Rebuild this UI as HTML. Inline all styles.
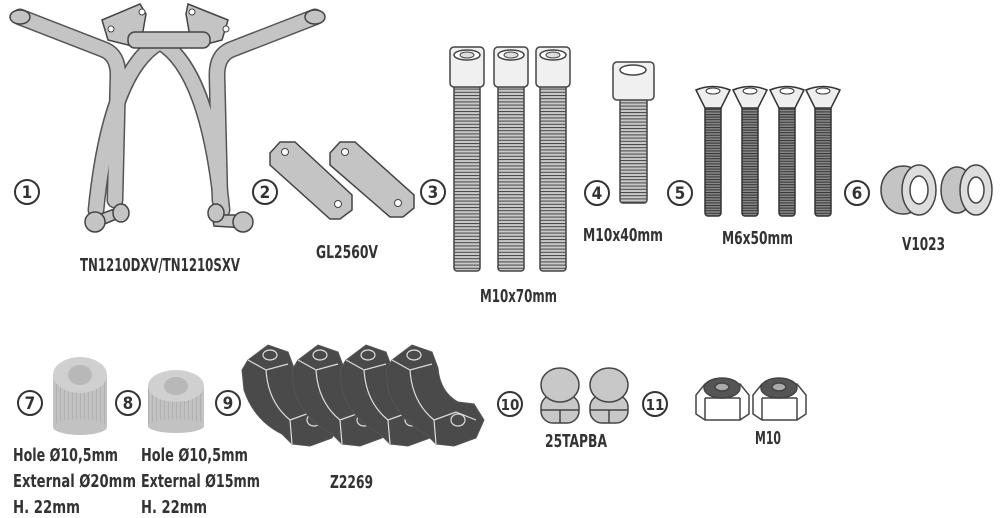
<!DOCTYPE html>
<html><head><meta charset="utf-8"><style>
html,body{margin:0;padding:0;background:#fff;}
svg{display:block;}
text{font-family:"Liberation Sans Narrow","DejaVu Sans Condensed","Liberation Sans",sans-serif;font-weight:bold;fill:#333;}
.n{font-size:17px;text-anchor:middle;}
.l{font-size:18px;}
</style></head><body>
<svg width="1000" height="518" viewBox="0 0 1000 518" xmlns="http://www.w3.org/2000/svg">
<defs>
<pattern id="thr" width="6" height="3.2" patternUnits="userSpaceOnUse">
<rect width="6" height="3.2" fill="#c8c8c8"/><line x1="0" y1="0.5" x2="6" y2="0.5" stroke="#444" stroke-width="1"/>
</pattern>
<pattern id="thr2" width="6" height="2.6" patternUnits="userSpaceOnUse">
<rect width="6" height="2.6" fill="#888"/><line x1="0" y1="0.5" x2="6" y2="0.5" stroke="#333" stroke-width="1"/>
</pattern>
<pattern id="rib" width="4" height="6" patternUnits="userSpaceOnUse">
<rect width="4" height="6" fill="#c2c2c2"/><line x1="0.5" y1="0" x2="0.5" y2="6" stroke="#b0b0b0" stroke-width="1"/>
</pattern>
<g id="bolt70">
<rect x="-13" y="38" width="26" height="186" rx="3" fill="url(#thr)" stroke="#444" stroke-width="1.5"/>
<rect x="-17" y="0" width="34" height="40" rx="4" fill="#f0f0f0" stroke="#444" stroke-width="1.5"/>
<ellipse cx="0" cy="8" rx="13" ry="5" fill="#fff" stroke="#444" stroke-width="1.5"/>
<ellipse cx="0" cy="8" rx="7" ry="3" fill="#ddd" stroke="#444"/>
</g>
<g id="bolt6">
<rect x="-8" y="14" width="16" height="114" rx="3" fill="url(#thr2)" stroke="#333" stroke-width="1.5"/>
<path d="M-17,2 Q0,-5 17,2 L8,20 L-8,20 Z" fill="#eee" stroke="#333" stroke-width="1.5"/>
<ellipse cx="0" cy="3" rx="7" ry="3" fill="#fff" stroke="#333"/>
</g>
<g id="clamp">
<path d="M8,18 L28,3 L48,10 L54,26 Q56,50 74,60 L90,62 L100,78 L92,96 L70,104 L52,102 L42,92 Q14,78 4,48 L2,28 Z" fill="#4a4a4a" stroke="#555" stroke-width="1"/>
<path d="M8,18 L26,28 L48,22 M26,28 Q28,60 50,78 M50,78 L72,70 L92,78 M50,78 L52,102" fill="none" stroke="#ddd" stroke-width="1.2"/>
<ellipse cx="30" cy="13" rx="7" ry="5" fill="none" stroke="#ddd" stroke-width="1.2"/>
<ellipse cx="74" cy="78" rx="7" ry="6" fill="none" stroke="#ddd" stroke-width="1.2"/>
</g>
<g id="circ"><circle r="12" fill="#fff" stroke="#333" stroke-width="2"/></g>
</defs>

<!-- Bracket 1 -->
<g fill="none" stroke-linecap="round" stroke-linejoin="round">
<g stroke="#555" stroke-width="17">
<path d="M20,17 L105,50 Q118,56 118,75 L115,200"/>
<path d="M315,17 L230,50 Q217,56 217,75 L220,200"/>
<path d="M96,210 Q110,70 160,42"/>
<path d="M222,210 Q208,70 160,42"/>
<path d="M135,40 L190,40"/>
</g>
<g stroke="#c4c4c4" stroke-width="14">
<path d="M20,17 L105,50 Q118,56 118,75 L115,200"/>
<path d="M315,17 L230,50 Q217,56 217,75 L220,200"/>
<path d="M96,210 Q110,70 160,42"/>
<path d="M222,210 Q208,70 160,42"/>
<path d="M135,40 L190,40"/>
</g>
</g>
<path d="M102,20 L140,4 L146,14 L140,48 L108,40 Z" fill="#c4c4c4" stroke="#444" stroke-width="1.5"/>
<path d="M188,4 L228,20 L222,40 L192,48 L186,14 Z" fill="#c4c4c4" stroke="#444" stroke-width="1.5"/>
<rect x="128" y="32" width="82" height="16" rx="7" fill="#c4c4c4" stroke="#444" stroke-width="1.5"/>
<circle cx="111" cy="29" r="3" fill="#fff" stroke="#444"/><circle cx="142" cy="12" r="3" fill="#fff" stroke="#444"/>
<circle cx="192" cy="12" r="3" fill="#fff" stroke="#444"/><circle cx="226" cy="29" r="3" fill="#fff" stroke="#444"/>
<ellipse cx="20" cy="17" rx="10" ry="7" fill="#c4c4c4" stroke="#444" stroke-width="1.5"/>
<ellipse cx="315" cy="17" rx="10" ry="7" fill="#c4c4c4" stroke="#444" stroke-width="1.5"/>
<path d="M90,218 L125,205 L126,215 L95,228 Z" fill="#c4c4c4" stroke="#444" stroke-width="1.5"/>
<path d="M212,215 L245,215 L244,228 L214,226 Z" fill="#c4c4c4" stroke="#444" stroke-width="1.5"/>
<ellipse cx="95" cy="222" rx="10" ry="10" fill="#c4c4c4" stroke="#444" stroke-width="1.5"/>
<ellipse cx="121" cy="213" rx="8" ry="9" fill="#c4c4c4" stroke="#444" stroke-width="1.5"/>
<ellipse cx="216" cy="213" rx="8" ry="9" fill="#c4c4c4" stroke="#444" stroke-width="1.5"/>
<ellipse cx="243" cy="222" rx="10" ry="10" fill="#c4c4c4" stroke="#444" stroke-width="1.5"/>

<!-- Plates 2 -->
<g fill="#c4c4c4" stroke="#444" stroke-width="1.5">
<path d="M270,153 L280,142 L295,142 L352,195 L352,210 L340,219 L330,219 L270,165 Z"/>
<path d="M330,153 L340,142 L355,142 L414,195 L414,208 L403,217 L390,217 L330,165 Z"/>
</g>
<g fill="#fff" stroke="#444"><circle cx="285" cy="152" r="3.5"/><circle cx="338" cy="204" r="3.5"/><circle cx="345" cy="152" r="3.5"/><circle cx="398" cy="203" r="3.5"/></g>

<use href="#bolt70" x="467" y="47"/>
<use href="#bolt70" x="511" y="47"/>
<use href="#bolt70" x="553" y="47"/>
<!-- M10x40 -->
<rect x="620" y="98" width="27" height="105" rx="3" fill="url(#thr)" stroke="#444" stroke-width="1.5"/>
<rect x="613" y="62" width="41" height="38" rx="4" fill="#f0f0f0" stroke="#444" stroke-width="1.5"/>
<ellipse cx="633" cy="70" rx="13" ry="5" fill="#fff" stroke="#444" stroke-width="1.5"/>
<use href="#bolt6" x="713" y="88"/><use href="#bolt6" x="750" y="88"/><use href="#bolt6" x="787" y="88"/><use href="#bolt6" x="823" y="88"/>

<!-- V1023 -->
<g stroke="#444" stroke-width="1.5">
<ellipse cx="903" cy="190" rx="22" ry="24" fill="#c4c4c4"/><ellipse cx="919" cy="190" rx="17" ry="25" fill="#ddd"/><ellipse cx="919" cy="190" rx="9" ry="14" fill="#fff"/>
<ellipse cx="957" cy="190" rx="16" ry="23" fill="#c4c4c4"/><ellipse cx="976" cy="190" rx="16" ry="25" fill="#ddd"/><ellipse cx="976" cy="190" rx="8" ry="13" fill="#fff"/>
</g>

<!-- Spacers -->
<rect x="53" y="375" width="54" height="52" fill="url(#rib)"/>
<ellipse cx="80" cy="427" rx="27" ry="8" fill="#c2c2c2"/>
<ellipse cx="80" cy="375" rx="27" ry="18" fill="#d0d0d0"/>
<ellipse cx="80" cy="375" rx="12" ry="10" fill="#b8b8b8"/>
<rect x="148" y="386" width="56" height="40" fill="url(#rib)"/>
<ellipse cx="176" cy="426" rx="28" ry="7" fill="#c2c2c2"/>
<ellipse cx="176" cy="386" rx="28" ry="16" fill="#d0d0d0"/>
<ellipse cx="176" cy="386" rx="12" ry="9" fill="#b8b8b8"/>

<!-- Clamps -->
<use href="#clamp" x="240" y="342"/><use href="#clamp" x="290" y="342"/><use href="#clamp" x="338" y="342"/><use href="#clamp" x="384" y="342"/>

<!-- Caps -->
<g stroke="#444" stroke-width="1.5" fill="#c8c8c8">
<rect x="541" y="395" width="38" height="28" rx="12"/><line x1="541" y1="410" x2="579" y2="410"/><line x1="560" y1="410" x2="560" y2="423"/>
<ellipse cx="560" cy="385" rx="19" ry="17"/>
<rect x="590" y="395" width="38" height="28" rx="12"/><line x1="590" y1="410" x2="628" y2="410"/><line x1="609" y1="410" x2="609" y2="423"/>
<ellipse cx="609" cy="385" rx="19" ry="17"/>
</g>
<!-- Nuts -->
<g stroke="#444" stroke-width="1.5" fill="#fff">
<path d="M696,395 L705,384 L740,384 L749,395 L749,414 L740,420 L705,420 L696,414 Z"/><path d="M705,398 L740,398 M705,398 L705,420 M740,398 L740,420" fill="none"/>
<ellipse cx="722" cy="388" rx="18" ry="10" fill="#555"/><ellipse cx="722" cy="387" rx="7" ry="4" fill="#aaa"/>
<path d="M753,395 L762,384 L797,384 L806,395 L806,414 L797,420 L762,420 L753,414 Z"/><path d="M762,398 L797,398 M762,398 L762,420 M797,398 L797,420" fill="none"/>
<ellipse cx="779" cy="388" rx="18" ry="10" fill="#555"/><ellipse cx="779" cy="387" rx="7" ry="4" fill="#aaa"/>
</g>

<!-- Number circles -->
<use href="#circ" x="27" y="192"/><text class="n" x="27" y="198">1</text>
<use href="#circ" x="265" y="192"/><text class="n" x="265" y="198">2</text>
<use href="#circ" x="433" y="192"/><text class="n" x="433" y="198">3</text>
<use href="#circ" x="597" y="193"/><text class="n" x="597" y="199">4</text>
<use href="#circ" x="680" y="193"/><text class="n" x="680" y="199">5</text>
<use href="#circ" x="857" y="193"/><text class="n" x="857" y="199">6</text>
<use href="#circ" x="30" y="403"/><text class="n" x="30" y="409">7</text>
<use href="#circ" x="128" y="403"/><text class="n" x="128" y="409">8</text>
<use href="#circ" x="228" y="403"/><text class="n" x="228" y="409">9</text>
<use href="#circ" x="510" y="404"/><text class="n" x="510" y="410" style="font-size:15px">10</text>
<use href="#circ" x="655" y="404"/><text class="n" x="655" y="410" style="font-size:15px">11</text>

<!-- Labels -->
<text class="l" x="80" y="271" textLength="160" lengthAdjust="spacingAndGlyphs">TN1210DXV/TN1210SXV</text>
<text class="l" x="316" y="258" textLength="62" lengthAdjust="spacingAndGlyphs">GL2560V</text>
<text class="l" x="480" y="302" textLength="77" lengthAdjust="spacingAndGlyphs">M10x70mm</text>
<text class="l" x="583" y="241" textLength="80" lengthAdjust="spacingAndGlyphs">M10x40mm</text>
<text class="l" x="722" y="244" textLength="71" lengthAdjust="spacingAndGlyphs">M6x50mm</text>
<text class="l" x="902" y="250" textLength="43" lengthAdjust="spacingAndGlyphs">V1023</text>
<text class="l" x="13" y="461" textLength="105" lengthAdjust="spacingAndGlyphs">Hole Ø10,5mm</text>
<text class="l" x="13" y="487" textLength="123" lengthAdjust="spacingAndGlyphs">External Ø20mm</text>
<text class="l" x="13" y="513" textLength="67" lengthAdjust="spacingAndGlyphs">H. 22mm</text>
<text class="l" x="141" y="461" textLength="107" lengthAdjust="spacingAndGlyphs">Hole Ø10,5mm</text>
<text class="l" x="141" y="487" textLength="119" lengthAdjust="spacingAndGlyphs">External Ø15mm</text>
<text class="l" x="141" y="513" textLength="66" lengthAdjust="spacingAndGlyphs">H. 22mm</text>
<text class="l" x="330" y="488" textLength="43" lengthAdjust="spacingAndGlyphs">Z2269</text>
<text class="l" x="545" y="447" textLength="62" lengthAdjust="spacingAndGlyphs">25TAPBA</text>
<text class="l" x="755" y="444" textLength="26" lengthAdjust="spacingAndGlyphs">M10</text>
</svg>
</body></html>
